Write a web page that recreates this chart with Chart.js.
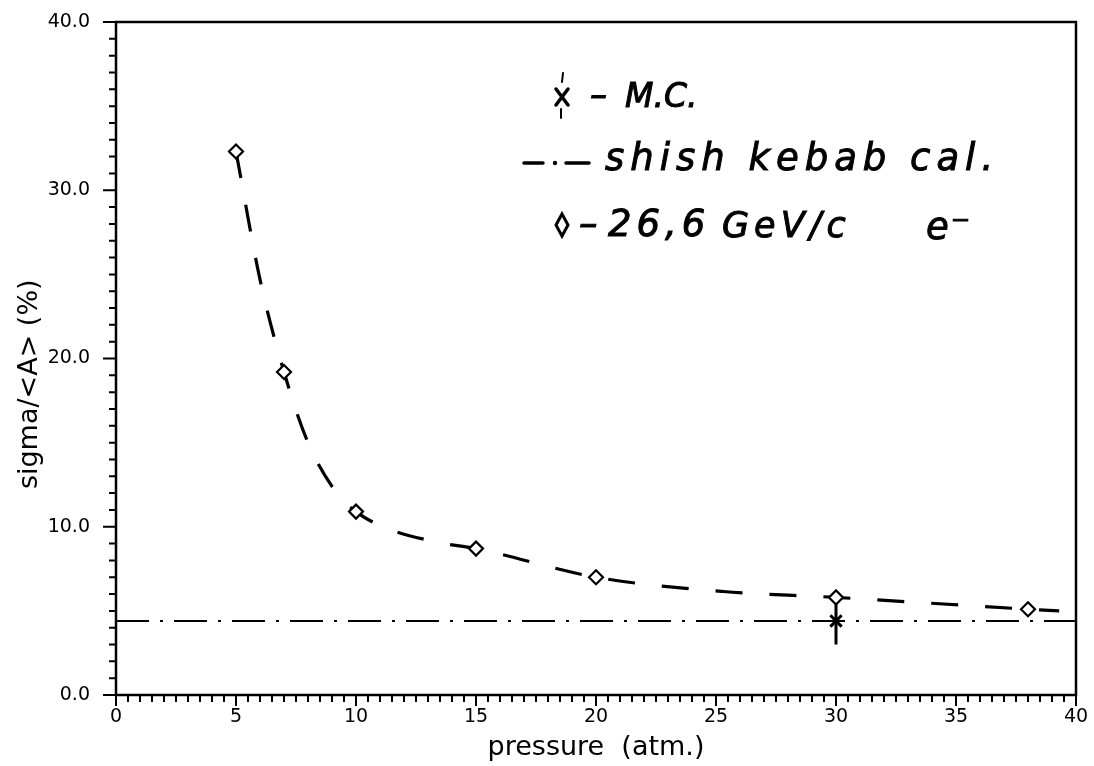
<!DOCTYPE html>
<html>
<head>
<meta charset="utf-8">
<script src="https://cdn.jsdelivr.net/npm/chart.js@4/dist/chart.umd.min.js"></script>
<style>
    html, body { margin: 0; padding: 0; background: #fff; }
    #wrap { width: 1094px; height: 766px; }
</style>
</head>
<body>
<div id="wrap"><canvas id="sigma-chart" width="1094" height="766"></canvas></div>
<script>
// resolution vs pressure, 26,6 GeV/c electrons
const pressures = [5, 7, 10, 15, 20, 30, 38];
const sigmaValues = [32.3, 19.2, 10.9, 8.7, 7.0, 5.8, 5.1];

// dashed curve drawn through the points, runs on towards the right edge
const fitPressures = [5, 6, 7, 8, 9.2, 10, 11.2, 13.5, 15, 20, 25.3, 30, 38, 39.3];
const fitValues = [32.3, 24.7, 19.2, 15.0, 12.0, 10.9, 9.95, 9.05, 8.7, 7.0, 6.15, 5.8, 5.1, 5.0];

// shish kebab calorimeter level
const kebabPressures = [0, 40];
const kebabValues = [4.4, 4.4];

// Monte Carlo point with its error bar
const mcPressures = [30];
const mcValues = [4.4];
const mcLow = [3.0];
const mcHigh = [5.5];

const xTickLabels = ["0", "5", "10", "15", "20", "25", "30", "35", "40"];
const yTickLabels = ["0.0", "10.0", "20.0", "30.0", "40.0"];

const tickFont = { family: '"DejaVu Sans", sans-serif', size: 19 };
const titleFont = { family: '"DejaVu Sans", sans-serif', size: 27 };
const handFamily = '"DejaVu Sans", sans-serif';

function toPoints(xs, ys) {
    return xs.map(function (x, i) { return { x: x, y: ys[i] }; });
}

// box round the plot plus the small outside tick marks
const frameTicks = {
    id: "frameTicks",
    afterDraw(chart) {
        const ctx = chart.ctx;
        const a = chart.chartArea;
        const x = chart.scales.x;
        const y = chart.scales.y;
        ctx.save();
        ctx.strokeStyle = "#000";
        ctx.lineWidth = 2.5;
        ctx.strokeRect(a.left, a.top, a.right - a.left, a.bottom - a.top);

        ctx.lineWidth = 2;
        ctx.beginPath();
        for (let v = 0; v <= 40.001; v += 0.5) {
            const px = x.getPixelForValue(v);
            const len = (v % 5 === 0) ? 11 : 7;
            ctx.moveTo(px, a.bottom);
            ctx.lineTo(px, a.bottom + len);
        }
        for (let v = 0; v <= 40; v += 1) {
            const py = y.getPixelForValue(v);
            const len = (v % 10 === 0) ? 13 : 7;
            ctx.moveTo(a.left, py);
            ctx.lineTo(a.left - len, py);
        }
        ctx.stroke();
        ctx.restore();
    }
};

// vertical error bar on the M.C. point
const mcErrorBar = {
    id: "mcErrorBar",
    beforeDatasetsDraw(chart) {
        const ctx = chart.ctx;
        const x = chart.scales.x;
        const y = chart.scales.y;
        ctx.save();
        ctx.strokeStyle = "#000";
        ctx.lineWidth = 3;
        ctx.beginPath();
        for (let i = 0; i < mcPressures.length; i++) {
            const px = x.getPixelForValue(mcPressures[i]);
            ctx.moveTo(px, y.getPixelForValue(mcLow[i]));
            ctx.lineTo(px, y.getPixelForValue(mcHigh[i]));
        }
        ctx.stroke();
        ctx.restore();
    }
};

// pen-like text: filled and lightly stroked so it reads heavier
function handText(ctx, text, x, y, size, spacing) {
    ctx.font = "italic " + size + "px " + handFamily;
    ctx.letterSpacing = spacing + "px";
    ctx.lineWidth = 1;
    ctx.fillText(text, x, y);
    ctx.strokeText(text, x, y);
}

// hand-written key in the upper right
const handKey = {
    id: "handKey",
    afterDraw(chart) {
        const ctx = chart.ctx;
        ctx.save();
        ctx.fillStyle = "#000";
        ctx.strokeStyle = "#000";
        ctx.textBaseline = "middle";
        ctx.lineCap = "round";

        // x with little bars above and below
        ctx.lineWidth = 3.5;
        ctx.beginPath();
        ctx.moveTo(556, 89); ctx.lineTo(568, 105);
        ctx.moveTo(568, 89); ctx.lineTo(556, 105);
        ctx.stroke();
        ctx.lineWidth = 2;
        ctx.beginPath();
        ctx.moveTo(563, 73); ctx.lineTo(562, 82);
        ctx.moveTo(561, 109); ctx.lineTo(561, 118);
        ctx.stroke();
        handText(ctx, "–", 590, 97, 34, 0);
        handText(ctx, "M.C.", 625, 98, 33, 0);

        // dash dot sample
        ctx.lineWidth = 3.5;
        ctx.beginPath();
        ctx.moveTo(524, 163); ctx.lineTo(543, 163);
        ctx.moveTo(566, 163); ctx.lineTo(589, 163);
        ctx.stroke();
        ctx.beginPath();
        ctx.arc(555, 163, 2.2, 0, Math.PI * 2);
        ctx.fill();
        handText(ctx, "shish kebab cal.", 605, 160, 37, 6);

        // diamond
        ctx.lineWidth = 3;
        ctx.beginPath();
        ctx.moveTo(562, 214); ctx.lineTo(568, 225); ctx.lineTo(562, 236); ctx.lineTo(556, 225);
        ctx.closePath();
        ctx.stroke();
        handText(ctx, "–", 579, 226, 37, 0);
        handText(ctx, "26,6", 608, 226, 37, 5);
        handText(ctx, "GeV/c", 722, 228, 35, 5);
        handText(ctx, "e⁻", 926, 229, 37, 2);
        ctx.restore();
    }
};

const config = {
    type: "scatter",
    data: {
        datasets: [
            {
                label: "26,6 GeV/c e-",
                data: toPoints(pressures, sigmaValues),
                pointStyle: "rectRot",
                pointRadius: 7,
                pointBackgroundColor: "#fff",
                pointBorderColor: "#000",
                pointBorderWidth: 2.2,
                showLine: false
            },
            {
                label: "M.C.",
                data: toPoints(mcPressures, mcValues),
                pointStyle: "crossRot",
                pointRadius: 8,
                pointBorderColor: "#000",
                pointBorderWidth: 3,
                showLine: false
            },
            {
                label: "fit",
                data: toPoints(fitPressures, fitValues),
                showLine: true,
                borderColor: "#000",
                borderWidth: 3.2,
                borderDash: [27, 27],
                cubicInterpolationMode: "monotone",
                pointRadius: 0
            },
            {
                label: "shish kebab cal.",
                data: toPoints(kebabPressures, kebabValues),
                showLine: true,
                borderColor: "#000",
                borderWidth: 2,
                borderDash: [33, 11, 3, 11],
                pointRadius: 0
            }
        ]
    },
    options: {
        responsive: false,
        animation: false,
        devicePixelRatio: 1,
        layout: { padding: { left: 0, right: 18, top: 22, bottom: 0 } },
        plugins: {
            legend: { display: false },
            tooltip: { enabled: false }
        },
        scales: {
            x: {
                type: "linear",
                min: 0,
                max: 40,
                // transparent grid ticks only push the labels away from the axis
                grid: { display: true, drawOnChartArea: false, drawTicks: true, tickLength: 10, color: "rgba(0,0,0,0)" },
                border: { display: false },
                ticks: {
                    stepSize: 5,
                    padding: 1,
                    maxRotation: 0,
                    color: "#000",
                    font: tickFont,
                    callback: function (v, i) { return xTickLabels[i]; }
                },
                title: {
                    display: true,
                    text: "pressure  (atm.)",
                    color: "#000",
                    font: titleFont,
                    padding: { top: 0, bottom: 2 }
                },
                afterFit: function (s) { s.height = 71; }
            },
            y: {
                type: "linear",
                min: 0,
                max: 40,
                grid: { display: true, drawOnChartArea: false, drawTicks: true, tickLength: 24, color: "rgba(0,0,0,0)" },
                border: { display: false },
                ticks: {
                    stepSize: 10,
                    padding: 2,
                    color: "#000",
                    font: tickFont,
                    callback: function (v, i) { return yTickLabels[i]; }
                },
                title: {
                    display: true,
                    text: "sigma/<A> (%)      ",
                    color: "#000",
                    font: titleFont,
                    padding: { top: 14, bottom: 0 }
                },
                afterFit: function (s) { s.width = 116; }
            }
        }
    },
    plugins: [frameTicks, mcErrorBar, handKey]
};

const sigmaChart = new Chart(document.getElementById("sigma-chart"), config);
</script>
</body>
</html>
